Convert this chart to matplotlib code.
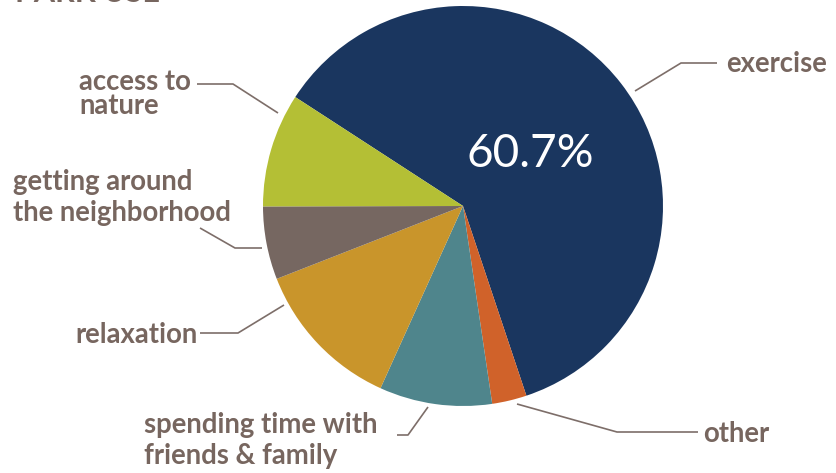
import numpy as np
import matplotlib
matplotlib.use("Agg")
import matplotlib.pyplot as plt

# data
categories = ["exercise", "other", "spending time with\nfriends & family",
              "relaxation", "getting around\nthe neighborhood", "access to\nnature"]
shares = [60.7, 2.8, 9.1, 12.3, 5.9, 9.2]
colors = ["#1a365f", "#d0622a", "#4f858c", "#c9952b", "#766761", "#b4bf35"]
big_label = "60.7%"

W, H = 837, 473
TXT = "#77665f"
LINE = "#7d6e69"
FONT = ["Lato", "DejaVu Sans"]

fig = plt.figure(figsize=(W / 100, H / 100), dpi=100)

# pie in a y-up axes laid out in pixel units
pax = fig.add_axes([0, 0, 1, 1])
cx, cy, r = 463, H - 206, 200
pax.pie(shares, colors=colors, startangle=147, counterclock=False,
        center=(cx, cy), radius=r, frame=True,
        wedgeprops=dict(linewidth=0))
pax.set_xlim(0, W)
pax.set_ylim(0, H)
pax.set_aspect("auto")
pax.axis("off")

# overlay for labels, image pixel coords (y down)
ax = fig.add_axes([0, 0, 1, 1])
ax.set_xlim(0, W)
ax.set_ylim(H, 0)
ax.patch.set_alpha(0)
ax.axis("off")

# label layout: left x, baselines of each line, leader path
layout = [
    (726, [72], [(717, 63), (681, 63), (635, 91)]),
    (703, [442], [(698, 432), (617, 432), (517, 404)]),
    (144, [433, 464], [(397, 435), (408, 435), (428, 407)]),
    (75, [343], [(200, 333), (238, 333), (284, 305)]),
    (13, [190, 221], [(200, 228), (235, 248), (262, 248)]),
    (79, [90, 114], [(197, 84), (233, 84), (278, 113)]),
]

for name, (tx, bases, path) in zip(categories, layout):
    xs, ys = zip(*path)
    ax.plot(xs, ys, color=LINE, lw=1.2, solid_capstyle="butt")
    for line, by in zip(name.split("\n"), bases):
        ax.text(tx, by, line, ha="left", va="baseline", color=TXT,
                fontsize=19.8, fontweight="bold", family=FONT)

ax.text(530, 167, big_label, ha="center", va="baseline", color="white",
        fontsize=33, family=FONT)

# title clipped at the top edge, as in the original
ax.text(15, 2, "PARK USE", ha="left", va="baseline", color=TXT,
        fontsize=22, fontweight="bold", family=FONT)

fig.savefig("out.png", dpi=100)
